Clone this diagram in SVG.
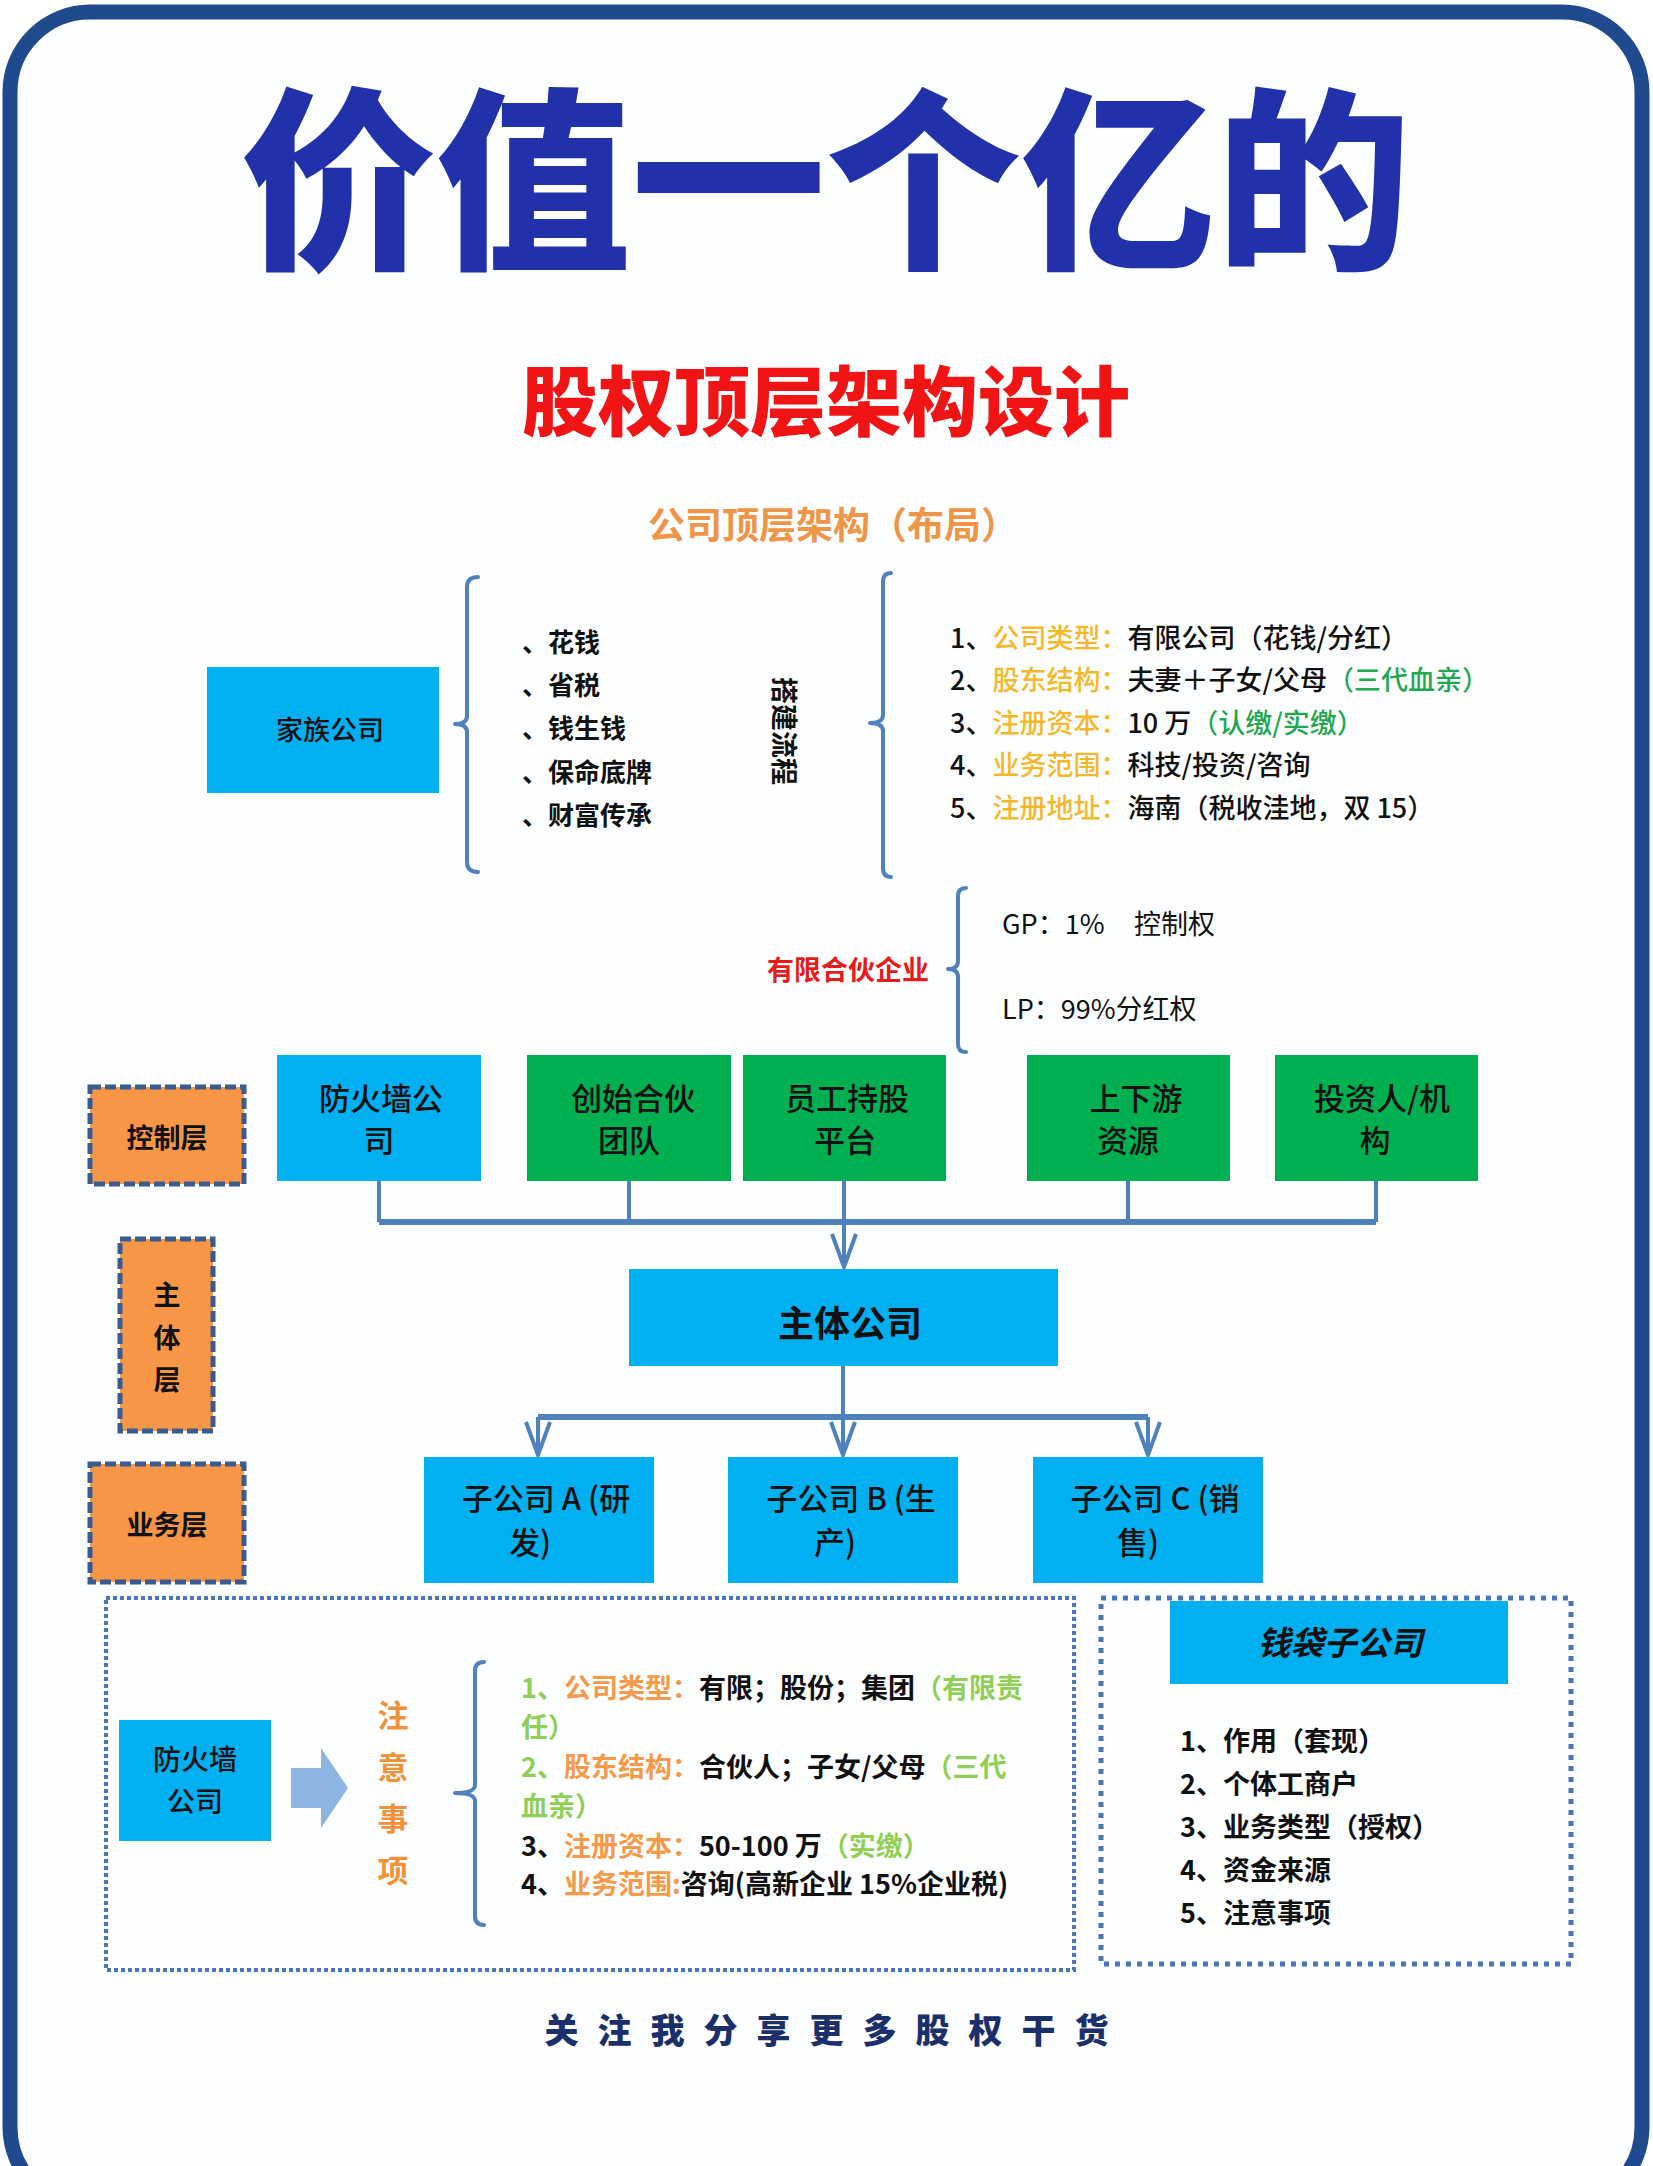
<svg xmlns="http://www.w3.org/2000/svg" width="1653" height="2166" viewBox="0 0 1653 2166">
<style>
text{font-family:"Noto Sans CJK SC","Noto Sans",sans-serif;}
.blue{fill:#00b0f0;}
.green{fill:#00b050;}
.layer{fill:#f79646;stroke:#3a5b8e;stroke-width:5;stroke-dasharray:11 4;}
.brk{fill:none;stroke:#4f81bd;stroke-width:4;stroke-linecap:round;stroke-linejoin:round;}
.con{fill:none;stroke:#4f81bd;stroke-width:4;}
.bar{fill:none;stroke:#4f81bd;stroke-width:6;}
.bt{font-size:31px;font-weight:500;fill:#111;text-anchor:middle;}
.lt{font-size:27px;font-weight:700;fill:#111;text-anchor:middle;}
.yl{fill:#f5b82a;}
.gr{fill:#1fa84f;}
.lg{fill:#8fcf55;}
.or{fill:#f5994a;}
</style>
<defs>
<marker id="arr" markerUnits="userSpaceOnUse" viewBox="-3 -15 38 30" refX="33" refY="0" markerWidth="38" markerHeight="30" orient="auto">
<path d="M0,-12 L33,0 L0,12" fill="none" stroke="#4f81bd" stroke-width="4" stroke-linejoin="miter"/>
</marker>
</defs>
<rect x="0" y="0" width="1653" height="2166" fill="#ffffff"/>
<rect id="frame" x="10" y="12" width="1632" height="2195" rx="80" ry="80" fill="#fdfeff" stroke="#1f4a8e" stroke-width="15"/>

<text x="826" y="254" font-size="195" font-weight="900" fill="#2131a9" text-anchor="middle">价值一个亿的</text>
<text x="826" y="430" font-size="76" font-weight="900" fill="#f01414" text-anchor="middle">股权顶层架构设计</text>
<text x="833" y="539" font-size="37" font-weight="700" fill="#ef9548" text-anchor="middle">公司顶层架构（布局）</text>

<g id="family">
<rect class="blue" x="207" y="667" width="232" height="126"/>
<text x="330" y="740" font-size="27" font-weight="500" fill="#111" text-anchor="middle">家族公司</text>
</g>

<g id="brackets">
<path class="brk" d="M478,577 Q467,577 467,587 L467,716 Q467,724 455,724 Q467,724 467,732 L467,862 Q467,872 478,872"/>
<path class="brk" d="M891,573 Q883,573 883,582 L883,715 Q883,723 870,723 Q883,723 883,731 L883,868 Q883,877 891,877"/>
<path class="brk" d="M966,888 Q958,888 958,896 L958,961 Q958,969 948,969 Q958,969 958,977 L958,1044 Q958,1052 966,1052"/>
<path class="brk" d="M484,1662 Q475,1662 475,1671 L475,1785 Q475,1793 455,1793 Q475,1793 475,1801 L475,1916 Q475,1925 484,1925"/>
</g>

<g id="purpose" font-size="26" font-weight="700" fill="#111">
<text x="522" y="652">、花钱</text>
<text x="522" y="695">、省税</text>
<text x="522" y="738">、钱生钱</text>
<text x="522" y="782">、保命底牌</text>
<text x="522" y="825">、财富传承</text>
</g>
<text transform="translate(784,731) rotate(90)" x="0" y="10" font-size="27" font-weight="700" fill="#111" text-anchor="middle">搭建流程</text>

<g id="process" font-size="27" font-weight="500" fill="#111">
<text x="950" y="648">1、<tspan class="yl">公司类型：</tspan>有限公司（花钱/分红）</text>
<text x="950" y="690">2、<tspan class="yl">股东结构：</tspan>夫妻＋子女/父母<tspan class="gr">（三代血亲）</tspan></text>
<text x="950" y="733">3、<tspan class="yl">注册资本：</tspan>10 万<tspan class="gr">（认缴/实缴）</tspan></text>
<text x="950" y="775">4、<tspan class="yl">业务范围：</tspan>科技/投资/咨询</text>
<text x="950" y="818">5、<tspan class="yl">注册地址：</tspan>海南（税收洼地，双 15）</text>
</g>

<g id="lp">
<text x="929" y="980" font-size="27" font-weight="700" fill="#e81b1b" text-anchor="end">有限合伙企业</text>
<text x="1002" y="934" font-size="27" font-weight="400" fill="#111">GP：1%<tspan x="1134">控制权</tspan></text>
<text x="1002" y="1019" font-size="27" font-weight="400" fill="#111">LP：99%分红权</text>
</g>

<g id="layer-control">
<rect class="layer" x="90" y="1087" width="154" height="97"/>
<text class="lt" x="167" y="1148">控制层</text>
</g>
<g id="layer-main">
<rect class="layer" x="120" y="1239" width="93" height="192"/>
<text class="lt" x="167" y="1305">主</text>
<text class="lt" x="167" y="1348">体</text>
<text class="lt" x="167" y="1390">层</text>
</g>
<g id="layer-biz">
<rect class="layer" x="90" y="1464" width="154" height="118"/>
<text class="lt" x="167" y="1535">业务层</text>
</g>

<g id="firewall">
<rect class="blue" x="277" y="1055" width="204" height="126"/>
<text class="bt" x="381" y="1110">防火墙公</text>
<text class="bt" x="379" y="1152">司</text>
</g>
<g id="founders">
<rect class="green" x="527" y="1055" width="204" height="126"/>
<text class="bt" x="633" y="1110">创始合伙</text>
<text class="bt" x="629" y="1152">团队</text>
</g>
<g id="esop">
<rect class="green" x="743" y="1055" width="203" height="126"/>
<text class="bt" x="847" y="1110">员工持股</text>
<text class="bt" x="845" y="1152">平台</text>
</g>
<g id="updown">
<rect class="green" x="1027" y="1055" width="203" height="126"/>
<text class="bt" x="1136" y="1110">上下游</text>
<text class="bt" x="1128" y="1152">资源</text>
</g>
<g id="investor">
<rect class="green" x="1275" y="1055" width="203" height="126"/>
<text class="bt" x="1382" y="1110">投资人/机</text>
<text class="bt" x="1375" y="1152">构</text>
</g>

<g id="main">
<rect class="blue" x="629" y="1269" width="429" height="97"/>
<text x="850" y="1337" font-size="36" font-weight="700" fill="#111" text-anchor="middle">主体公司</text>
</g>

<g id="subA">
<rect class="blue" x="424" y="1457" width="230" height="126"/>
<text class="bt" x="546" y="1510">子公司 A (研</text>
<text class="bt" x="530" y="1554">发)</text>
</g>
<g id="subB">
<rect class="blue" x="728" y="1457" width="230" height="126"/>
<text class="bt" x="851" y="1510">子公司 B (生</text>
<text class="bt" x="835" y="1554">产)</text>
</g>
<g id="subC">
<rect class="blue" x="1033" y="1457" width="230" height="126"/>
<text class="bt" x="1155" y="1510">子公司 C (销</text>
<text class="bt" x="1138" y="1554">售)</text>
</g>

<g id="connectors">
<path class="con" d="M379,1181 V1222 M629,1181 V1222 M844,1181 V1222 M1128,1181 V1222 M1376,1181 V1222"/>
<path class="bar" d="M379,1222 H1376"/>
<path class="con" d="M844,1222 V1267" marker-end="url(#arr)"/>
<path class="con" d="M843,1366 V1417"/>
<path class="bar" d="M538,1417 H1148"/>
<path class="con" d="M538,1417 V1455" marker-end="url(#arr)"/>
<path class="con" d="M843,1417 V1455" marker-end="url(#arr)"/>
<path class="con" d="M1148,1417 V1455" marker-end="url(#arr)"/>
</g>

<g id="firewall-notes">
<rect x="106" y="1598" width="968" height="372" fill="none" stroke="#4a76b8" stroke-width="4" stroke-dasharray="4 3"/>
<rect class="blue" x="119" y="1720" width="152" height="121"/>
<text x="195" y="1770" font-size="28" font-weight="500" fill="#111" text-anchor="middle">防火墙</text>
<text x="195" y="1812" font-size="28" font-weight="500" fill="#111" text-anchor="middle">公司</text>
<polygon points="291,1768 321,1768 321,1748 348,1788 321,1828 321,1808 291,1808" fill="#8db4e2"/>
<g font-size="31" font-weight="700" fill="#f0923a" text-anchor="middle">
<text x="393" y="1727">注</text>
<text x="393" y="1779">意</text>
<text x="393" y="1830">事</text>
<text x="393" y="1882">项</text>
</g>
<g font-size="27" font-weight="700" fill="#111">
<text x="521" y="1698"><tspan class="lg">1、</tspan><tspan class="or">公司类型：</tspan>有限；股份；集团<tspan class="lg">（有限责</tspan></text>
<text x="521" y="1737" class="lg">任）</text>
<text x="521" y="1777"><tspan class="lg">2、</tspan><tspan class="or">股东结构：</tspan>合伙人；子女/父母<tspan class="lg">（三代</tspan></text>
<text x="521" y="1816" class="lg">血亲）</text>
<text x="521" y="1856">3、<tspan class="or">注册资本：</tspan>50-100 万<tspan class="lg">（实缴）</tspan></text>
<text x="521" y="1894">4、<tspan class="or">业务范围:</tspan>咨询(高新企业 15%企业税)</text>
</g>
</g>

<g id="wallet">
<rect x="1101" y="1598" width="470" height="366" fill="none" stroke="#4a76b8" stroke-width="5" stroke-dasharray="5 6"/>
<rect class="blue" x="1170" y="1601" width="338" height="83"/>
<text x="1340" y="1655" font-size="33" font-weight="700" font-style="italic" fill="#111" text-anchor="middle">钱袋子公司</text>
<g font-size="27" font-weight="700" fill="#111">
<text x="1180" y="1751">1、作用（套现）</text>
<text x="1180" y="1794">2、个体工商户</text>
<text x="1180" y="1837">3、业务类型（授权）</text>
<text x="1180" y="1880">4、资金来源</text>
<text x="1180" y="1923">5、注意事项</text>
</g>
</g>

<text x="836" y="2043" font-size="34" font-weight="900" fill="#1b2f6b" text-anchor="middle" letter-spacing="19">关注我分享更多股权干货</text>
</svg>
